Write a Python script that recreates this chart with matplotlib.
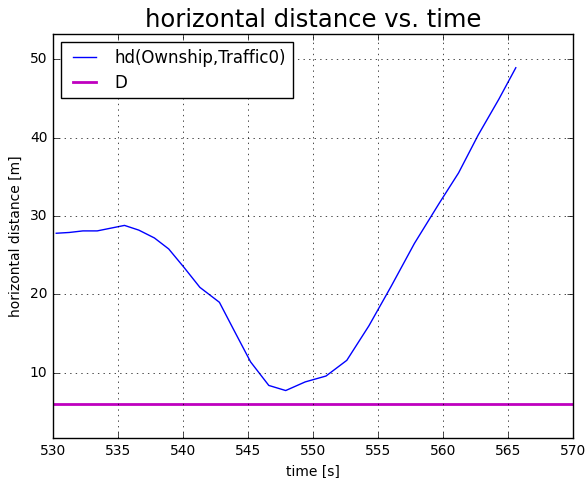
import matplotlib
matplotlib.use('Agg')
import matplotlib.pyplot as plt

# time [s] and horizontal distance [m]
time = [530.25, 531.25, 532.3, 533.4, 535.5, 536.6, 537.8, 538.9, 540.1,
        541.3, 542.8, 543.9, 545.2, 546.6, 547.9, 549.4, 551.0, 552.6,
        554.3, 556.0, 557.8, 559.7, 561.2, 562.7, 564.3, 565.6]
hd = [27.8, 27.9, 28.1, 28.1, 28.8, 28.2, 27.2, 25.8, 23.4,
      20.9, 19.0, 15.5, 11.4, 8.4, 7.75, 8.85, 9.6, 11.6,
      16.0, 21.0, 26.5, 31.6, 35.5, 40.3, 44.9, 48.9]
D = 6.0

plt.style.use('classic')
fig = plt.figure(figsize=(5.87, 4.78), dpi=100)
ax = fig.add_axes([53 / 587, 40 / 478, 520 / 587, 404 / 478])

ax.plot(time, hd, color='b', linewidth=1, label='hd(Ownship,Traffic0)')
ax.axhline(D, color='m', linewidth=2, label='D')

ax.set_xlim(530, 570)
ax.set_ylim(1.7, 53.2)
ax.set_xticks(range(530, 571, 5))
ax.set_yticks([10, 20, 30, 40, 50])
ax.grid(True)
ax.set_title('horizontal distance vs. time', fontsize=17.5)
ax.set_xlabel('time [s]', fontsize=10)
ax.set_ylabel('horizontal distance [m]', fontsize=10)
ax.tick_params(labelsize=10)
ax.legend(loc='upper left', fontsize=12, labelspacing=0.4)

fig.savefig('out.png', dpi=100)
